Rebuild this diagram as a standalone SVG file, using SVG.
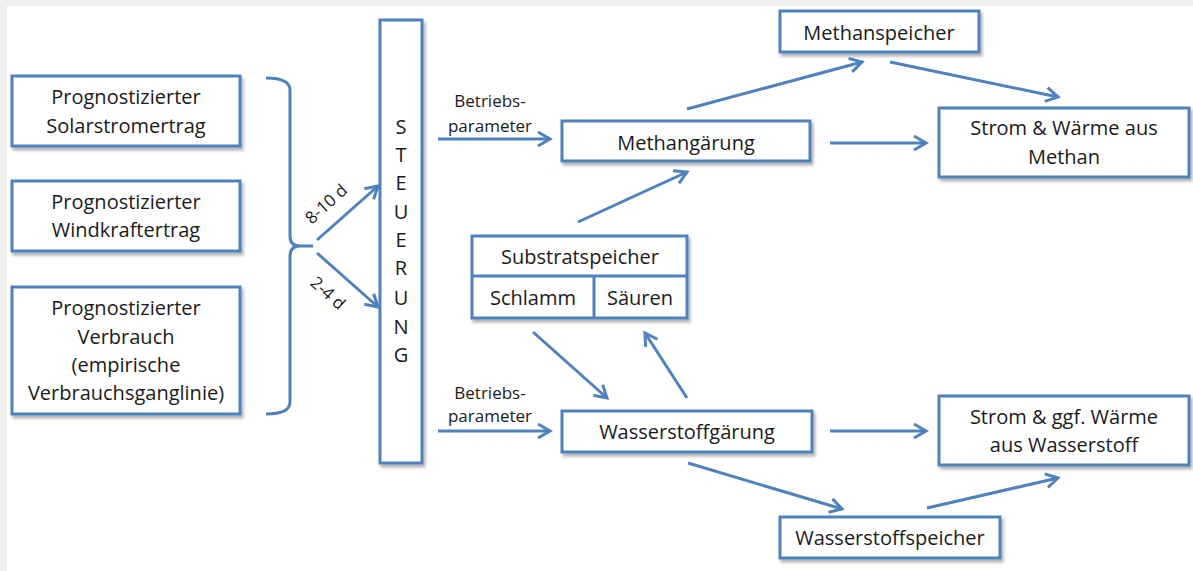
<svg xmlns="http://www.w3.org/2000/svg" width="1193" height="571" viewBox="0 0 1193 571">
<style>
.box{fill:#fff;stroke:#4f81bd;stroke-width:3;filter:url(#sh)}
.ln{fill:none;stroke:#4f81bd;stroke-width:3}
.arr{fill:none;stroke:#4f81bd;stroke-width:3;marker-end:url(#ah)}
text{font-family:"Open Sans","Liberation Sans",sans-serif;fill:#1a1a1a;text-anchor:middle}
.t{font-size:20px}
.s{font-size:17px}
</style>
<defs>
<filter id="sh" x="-10%" y="-10%" width="130%" height="140%">
<feDropShadow dx="2" dy="3" stdDeviation="1.5" flood-color="#000" flood-opacity="0.3"/>
</filter>
<marker id="ah" markerUnits="userSpaceOnUse" markerWidth="20" markerHeight="20" viewBox="0 0 20 20" refX="16" refY="10" orient="auto">
<path d="M4,3 L16,10 L4,17" fill="none" stroke="#4f81bd" stroke-width="3" stroke-linejoin="miter"/>
</marker>
</defs>
<rect x="0" y="0" width="1193" height="571" fill="#fff"/>
<rect x="0" y="0" width="1193" height="6" fill="#efefef"/>
<rect x="0" y="0" width="7" height="571" fill="#efefef"/>

<g id="connectors">
<path class="ln" d="M266,78 Q290,78 290,90 L290,236 Q290,246 300,246 L313,246 M300,246 Q290,246 290,256 L290,402 Q290,414 266,414"/>
<line class="arr" x1="317" y1="240" x2="378" y2="186"/>
<line class="arr" x1="317" y1="253" x2="378" y2="307"/>
<line class="arr" x1="438" y1="139" x2="550" y2="139"/>
<line class="arr" x1="438" y1="431" x2="550" y2="431"/>
<line class="arr" x1="687" y1="109" x2="862" y2="62"/>
<line class="arr" x1="890" y1="62" x2="1058" y2="97"/>
<line class="arr" x1="830" y1="143" x2="926" y2="143"/>
<line class="arr" x1="578" y1="222" x2="687" y2="172"/>
<line class="arr" x1="533" y1="332" x2="607" y2="398"/>
<line class="arr" x1="687" y1="398" x2="645" y2="333"/>
<line class="arr" x1="830" y1="431" x2="926" y2="431"/>
<line class="arr" x1="688" y1="463" x2="842" y2="509"/>
<line class="arr" x1="927" y1="508" x2="1058" y2="478"/>
<text class="s" transform="translate(326,204) rotate(-42)" dy="6">8-10 d</text>
<text class="s" transform="translate(328,293) rotate(42)" dy="6">2-4 d</text>
<text class="s" x="490" y="107">Betriebs-</text>
<text class="s" x="490" y="132">parameter</text>
<text class="s" x="490" y="399">Betriebs-</text>
<text class="s" x="490" y="422">parameter</text>
</g>

<g id="solar">
<rect class="box" x="12" y="76" width="228" height="70"/>
<text class="t" x="126" y="104">Prognostizierter</text>
<text class="t" x="126" y="133">Solarstromertrag</text>
</g>
<g id="wind">
<rect class="box" x="12" y="181" width="228" height="70"/>
<text class="t" x="126" y="209">Prognostizierter</text>
<text class="t" x="126" y="237">Windkraftertrag</text>
</g>
<g id="verbrauch">
<rect class="box" x="12" y="287" width="228" height="127"/>
<text class="t" x="126" y="315">Prognostizierter</text>
<text class="t" x="126" y="344">Verbrauch</text>
<text class="t" x="126" y="372">(empirische</text>
<text class="t" x="126" y="400">Verbrauchsganglinie)</text>
</g>
<g id="steuerung">
<rect class="box" x="380" y="20" width="42" height="443"/>
<text class="t" x="401" y="134">S</text>
<text class="t" x="401" y="162">T</text>
<text class="t" x="401" y="190">E</text>
<text class="t" x="401" y="219">U</text>
<text class="t" x="401" y="247">E</text>
<text class="t" x="401" y="275">R</text>
<text class="t" x="401" y="305">U</text>
<text class="t" x="401" y="334">N</text>
<text class="t" x="401" y="362">G</text>
</g>
<g id="methangaerung">
<rect class="box" x="562" y="121" width="248" height="40"/>
<text class="t" x="686" y="150">Methangärung</text>
</g>
<g id="methanspeicher">
<rect class="box" x="780" y="11" width="199" height="41"/>
<text class="t" x="879" y="40">Methanspeicher</text>
</g>
<g id="strom_methan">
<rect class="box" x="939" y="108" width="250" height="69"/>
<text class="t" x="1064" y="135">Strom &amp; Wärme aus</text>
<text class="t" x="1064" y="164">Methan</text>
</g>
<g id="substratspeicher">
<rect class="box" x="472" y="236" width="215" height="82"/>
<line class="ln" x1="472" y1="276" x2="687" y2="276"/>
<line class="ln" x1="594" y1="276" x2="594" y2="318"/>
<text class="t" x="580" y="264">Substratspeicher</text>
<text class="t" x="533" y="305">Schlamm</text>
<text class="t" x="640" y="305">Säuren</text>
</g>
<g id="wasserstoffgaerung">
<rect class="box" x="562" y="411" width="250" height="41"/>
<text class="t" x="687" y="439">Wasserstoffgärung</text>
</g>
<g id="strom_wasserstoff">
<rect class="box" x="939" y="396" width="250" height="69"/>
<text class="t" x="1064" y="424">Strom &amp; ggf. Wärme</text>
<text class="t" x="1064" y="452">aus Wasserstoff</text>
</g>
<g id="wasserstoffspeicher">
<rect class="box" x="780" y="517" width="220" height="41"/>
<text class="t" x="890" y="545">Wasserstoffspeicher</text>
</g>
</svg>
